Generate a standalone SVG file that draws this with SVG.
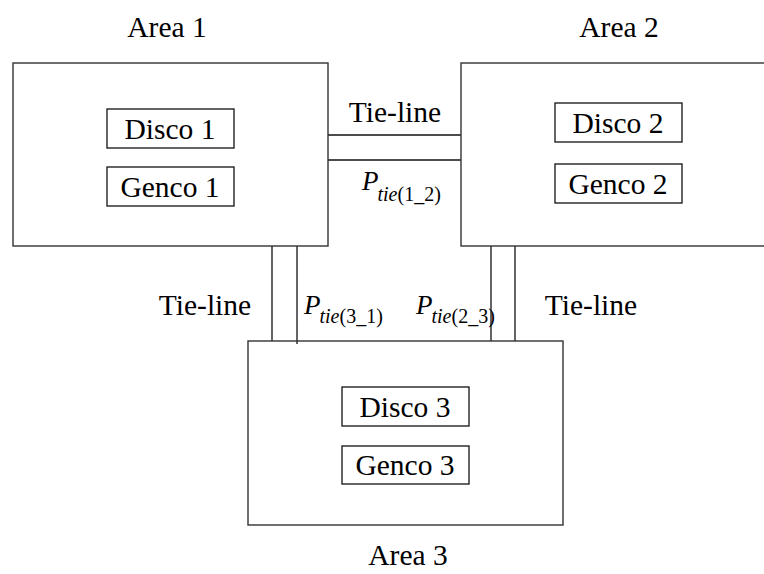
<svg xmlns="http://www.w3.org/2000/svg" width="764" height="574" viewBox="0 0 764 574">
<style>
.area{fill:none;stroke:#333;stroke-width:1.4}
.sub{fill:none;stroke:#111;stroke-width:1.3}
.ln{stroke:#111;stroke-width:1.3;fill:none}
.t{font-size:29.5px;text-anchor:middle}
.p{font-size:27px;font-style:italic}
.s{font-size:20px}
.i{font-style:italic}
</style>
<rect width="764" height="574" fill="#fff"/>
<g font-family="'Liberation Serif', 'DejaVu Serif', serif" fill="#000">
<g id="connectors">
<line class="ln" x1="328" y1="135" x2="461" y2="135"/>
<line class="ln" x1="328" y1="160" x2="461" y2="160"/>
<line class="ln" x1="272" y1="246" x2="272" y2="341"/>
<line class="ln" x1="297" y1="246" x2="297" y2="344"/>
<line class="ln" x1="491" y1="246" x2="491" y2="341"/>
<line class="ln" x1="515" y1="246" x2="515" y2="341"/>
</g>
<g id="area1">
<rect class="area" x="13" y="63" width="315" height="183"/>
<text class="t" x="167" y="37">Area 1</text>
</g>
<g id="disco1"><rect class="sub" x="107" y="109" width="127" height="39"/><text class="t" x="170" y="139">Disco 1</text></g>
<g id="genco1"><rect class="sub" x="107" y="167" width="127" height="39"/><text class="t" x="170" y="197">Genco 1</text></g>
<g id="area2">
<rect class="area" x="461" y="63" width="320" height="183"/>
<text class="t" x="619" y="37">Area 2</text>
</g>
<g id="disco2"><rect class="sub" x="555" y="103" width="127" height="39"/><text class="t" x="618" y="133">Disco 2</text></g>
<g id="genco2"><rect class="sub" x="555" y="164" width="127" height="39"/><text class="t" x="618" y="194">Genco 2</text></g>
<g id="area3">
<rect class="area" x="248" y="341" width="315" height="184"/>
<text class="t" x="408" y="565">Area 3</text>
</g>
<g id="disco3"><rect class="sub" x="342" y="387" width="127" height="39"/><text class="t" x="405" y="417">Disco 3</text></g>
<g id="genco3"><rect class="sub" x="342" y="446" width="127" height="38"/><text class="t" x="405" y="475">Genco 3</text></g>
<g id="labels">
<text class="t" x="395" y="122">Tie-line</text>
<text class="t" x="205" y="315">Tie-line</text>
<text class="t" x="591" y="315">Tie-line</text>
<text x="362" y="190"><tspan class="p">P</tspan><tspan class="s" dy="11" dx="-1"><tspan class="i">tie</tspan>(1_2)</tspan></text>
<text x="304" y="314"><tspan class="p">P</tspan><tspan class="s" dy="9" dx="-1"><tspan class="i">tie</tspan>(3_1)</tspan></text>
<text x="416" y="314"><tspan class="p">P</tspan><tspan class="s" dy="9" dx="-1"><tspan class="i">tie</tspan>(2_3)</tspan></text>
</g>
</g>
</svg>
